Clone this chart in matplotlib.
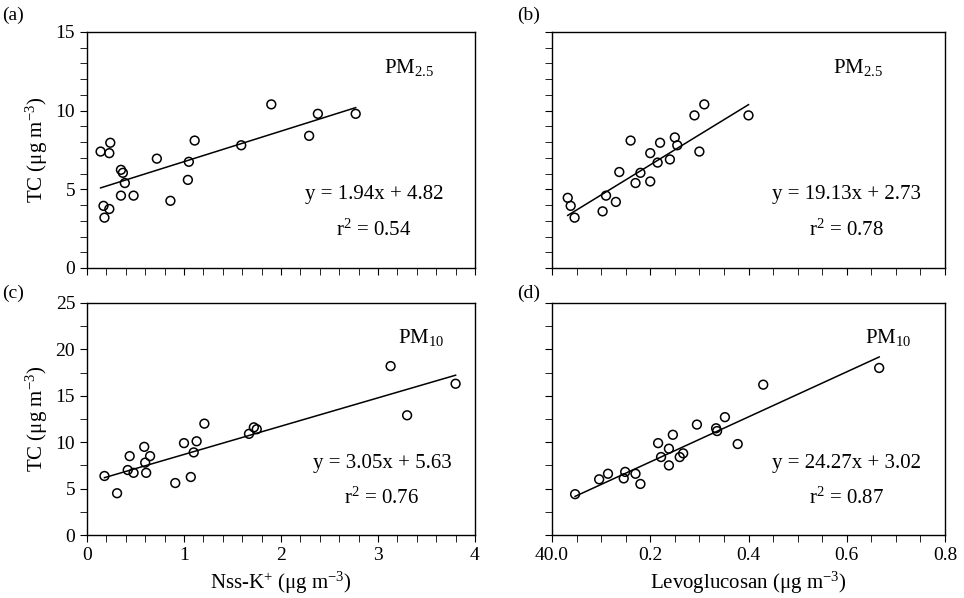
import matplotlib
matplotlib.use("Agg")
import matplotlib.pyplot as plt
import numpy as np
from matplotlib.ticker import MultipleLocator

plt.rcParams["font.family"] = ["Liberation Serif", "DejaVu Serif"]
plt.rcParams["mathtext.fontset"] = "custom"
plt.rcParams["mathtext.rm"] = "Liberation Serif"
plt.rcParams["mathtext.it"] = "Liberation Serif"

# (a) PM2.5 TC vs nss-K+
a_x = [0.14, 0.24, 0.23, 0.35, 0.37, 0.39, 0.35, 0.48, 0.17, 0.23, 0.18,
       0.72, 0.86, 1.04, 1.05, 1.11, 1.59, 1.90, 2.29, 2.38, 2.77]
a_y = [7.4, 7.96, 7.3, 6.24, 6.05, 5.4, 4.6, 4.6, 3.95, 3.75, 3.2,
       6.95, 4.27, 5.6, 6.75, 8.1, 7.8, 10.4, 8.4, 9.8, 9.8]
# (b) PM2.5 TC vs levoglucosan
b_x = [0.032, 0.038, 0.046, 0.103, 0.11, 0.13, 0.137, 0.16, 0.17, 0.18, 0.20,
       0.20, 0.215, 0.22, 0.24, 0.25, 0.255, 0.29, 0.30, 0.31, 0.40]
b_y = [4.46, 3.95, 3.2, 3.6, 4.6, 4.2, 6.1, 8.1, 5.4, 6.05, 5.5,
       7.3, 6.7, 7.96, 6.9, 8.3, 7.8, 9.7, 7.4, 10.4, 9.7]
# (c) PM10 TC vs nss-K+
c_x = [0.18, 0.31, 0.42, 0.44, 0.48, 0.59, 0.60, 0.61, 0.65, 0.91, 1.00,
       1.07, 1.10, 1.13, 1.21, 1.67, 1.72, 1.75, 3.13, 3.30, 3.80]
c_y = [6.36, 4.5, 7.0, 8.5, 6.7, 9.5, 7.8, 6.7, 8.5, 5.6, 9.9,
       6.25, 8.9, 10.1, 12.0, 10.9, 11.6, 11.4, 18.2, 12.9, 16.3]
# (d) PM10 TC vs levoglucosan
d_x = [0.047, 0.096, 0.114, 0.146, 0.149, 0.17, 0.18, 0.216, 0.222, 0.238, 0.238,
       0.246, 0.26, 0.267, 0.295, 0.334, 0.336, 0.352, 0.378, 0.43, 0.666]
d_y = [4.4, 6.0, 6.6, 6.1, 6.8, 6.6, 5.5, 9.9, 8.4, 7.5, 9.3,
       10.8, 8.4, 8.8, 11.9, 11.5, 11.2, 12.7, 9.8, 16.2, 18.0]

slopes = [1.94, 19.13, 3.05, 24.27]
intercepts = [4.82, 2.73, 5.63, 3.02]
r2 = [0.54, 0.78, 0.76, 0.87]
sizes = ["2.5", "2.5", "10", "10"]
tags = ["(a)", "(b)", "(c)", "(d)"]

W, H = 964, 598
fig = plt.figure(figsize=(W / 100, H / 100), dpi=100)


def rect(l, r, t, b):
    return [l / W, 1 - b / H, (r - l) / W, (b - t) / H]


rects = [rect(87, 475, 32, 268), rect(552, 945, 32, 268),
         rect(87, 475, 303, 535), rect(552, 945, 303, 535)]
data = [(a_x, a_y), (b_x, b_y), (c_x, c_y), (d_x, d_y)]
text_pos = [(0.83, 0.74), (0.78, 0.75), (0.86, 0.76), (0.855, 0.75)]

for i, (r, (xs, ys)) in enumerate(zip(rects, data)):
    ax = fig.add_axes(r)
    xs = np.array(xs)
    ax.scatter(xs, ys, s=40, facecolors="none", edgecolors="black", linewidths=1.1, zorder=3)
    lx = np.array([xs.min(), xs.max()])
    ax.plot(lx, slopes[i] * lx + intercepts[i], color="black", lw=1.1)
    left = i % 2 == 0
    top = i < 2
    if left:
        ax.set_xlim(0, 4)
        ax.xaxis.set_major_locator(MultipleLocator(1))
        ax.xaxis.set_minor_locator(MultipleLocator(0.2))
    else:
        ax.set_xlim(0, 0.8)
        ax.xaxis.set_major_locator(MultipleLocator(0.2))
        ax.xaxis.set_minor_locator(MultipleLocator(0.05))
    if top:
        ax.set_ylim(0, 15)
    else:
        ax.set_ylim(0, 25)
    ax.yaxis.set_major_locator(MultipleLocator(5))
    ax.yaxis.set_minor_locator(MultipleLocator(1 if top else 2.5))
    ax.tick_params(which="major", direction="out", length=5, labelsize=14, colors="black")
    ax.tick_params(which="minor", direction="out", length=5)
    if top:
        ax.set_xticklabels([])
    if not left:
        ax.set_yticklabels([])
    if left:
        ax.set_ylabel(r"TC ($\mu$g m$^{-3}$)", fontsize=15)
    if not top:
        if left:
            ax.set_xlabel(r"Nss-K$^{+}$ ($\mu$g m$^{-3}$)", fontsize=15)
        else:
            ax.set_xlabel(r"Levoglucosan ($\mu$g m$^{-3}$)", fontsize=15)
            ax.set_xticks([0, 0.2, 0.4, 0.6, 0.8])
            ax.set_xticklabels(["40.0", "0.2", "0.4", "0.6", "0.8"])
    for s in ax.spines.values():
        s.set_linewidth(1.0)
    px, ex = text_pos[i]
    ax.text(px, 0.85, "PM$_{%s}$" % sizes[i], transform=ax.transAxes,
            ha="center", va="center", fontsize=15)
    ax.text(ex, 0.31, f"y = {slopes[i]:.2f}x + {intercepts[i]:.2f}", transform=ax.transAxes,
            ha="center", va="center", fontsize=15)
    ax.text(ex, 0.16, f"r$^{{2}}$ = {r2[i]:.2f}", transform=ax.transAxes,
            ha="center", va="center", fontsize=15)

for tag, (x, y) in zip(tags, [(2, 15), (517, 15), (2, 293), (517, 293)]):
    fig.text(x / W, 1 - y / H, tag, fontsize=14, ha="left", va="center")

fig.savefig("out.png", dpi=100)
